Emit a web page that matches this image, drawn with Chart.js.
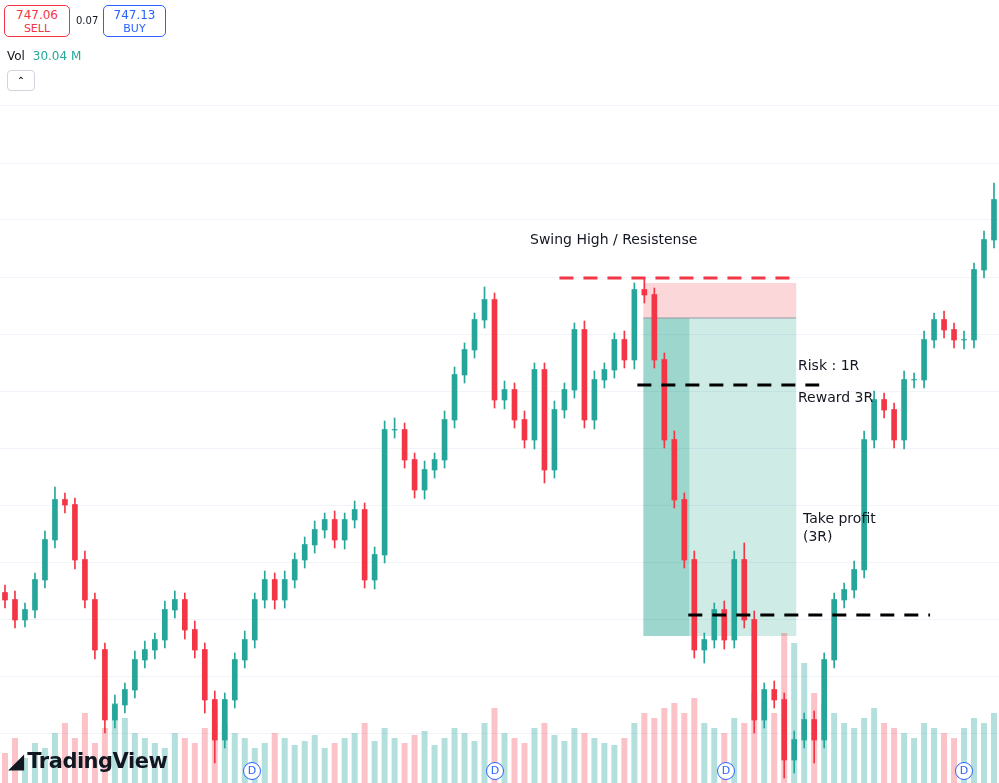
<!DOCTYPE html>
<html>
<head>
<meta charset="utf-8">
<script src="https://cdn.jsdelivr.net/npm/chart.js@4.4.1/dist/chart.umd.min.js"></script>
<style>
  html, body { margin: 0; padding: 0; background: #fff; overflow: hidden; }
  #wrap { position: relative; width: 999px; height: 783px; font-family: "DejaVu Sans", sans-serif; }
  canvas { position: absolute; left: 0; top: 0; }
  .lbl { position: absolute; font-size: 14px; color: #131722; white-space: nowrap; }
  .box { position: absolute; top: 5px; height: 32px; border-radius: 5px; font-size: 11px; text-align: center; line-height: 13px; padding-top: 3px; box-sizing: border-box; background: #fff; }
  .dmark { position: absolute; bottom: 3px; width: 16px; height: 16px; border: 1.5px solid #2962ff; border-radius: 50%; font-size: 11px; color: #2962ff; text-align: center; line-height: 16px; background: #fff; }
</style>
</head>
<body>
<div id="wrap">
  <canvas id="c" width="999" height="783"></canvas>
  <div class="box" style="left:4px;width:66px;border:1px solid #f23645;color:#f23645"><b style="font-size:12px;font-weight:normal">747.06</b><br>SELL</div>
  <div class="lbl" style="left:76px;top:15px;font-size:10px">0.07</div>
  <div class="box" style="left:103px;width:63px;border:1px solid #2962ff;color:#2962ff"><b style="font-size:12px;font-weight:normal">747.13</b><br>BUY</div>
  <div class="lbl" style="left:7px;top:49px;font-size:12px">Vol <span style="color:#26a69a;margin-left:4px">30.04 M</span></div>
  <div style="position:absolute;left:7px;top:70px;width:26px;height:19px;border:1px solid #d1d4dc;border-radius:4px;font-size:10px;text-align:center;line-height:19px;background:#fff">&#8963;</div>
  <div class="lbl" style="left:530px;top:231px">Swing High / Resistense</div>
  <div class="lbl" style="left:798px;top:357px">Risk : 1R</div>
  <div class="lbl" style="left:798px;top:389px">Reward 3R</div>
  <div class="lbl" style="left:803px;top:509px;line-height:18px">Take profit<br>(3R)</div>
  <div class="lbl" style="left:8px;top:749px;font-size:21px;font-weight:bold;letter-spacing:-0.5px">&#9698;&#8201;TradingView</div>
  <div class="dmark" style="left:243px">D</div>
  <div class="dmark" style="left:486px">D</div>
  <div class="dmark" style="left:717px">D</div>
  <div class="dmark" style="left:955px">D</div>
</div>
<script>
// candle data (price units)
const opens  = [190,183,163,173,203,243,283,278,223,183,133,63,78,93,123,133,143,173,183,153,133,83,43,83,123,143,183,203,183,203,223,238,253,263,243,263,273,203,228,353,353,323,293,313,323,363,408,433,463,483,383,393,363,343,413,313,373,393,453,363,403,413,443,423,493,488,423,343,283,223,133,143,173,143,223,163,63,93,83,23,43,63,43,123,183,193,213,343,383,373,343,403,403,443,463,453,443,443,513,543];
const closes = [183,163,173,203,243,283,278,223,183,133,63,78,93,123,133,143,173,183,153,133,83,43,83,123,143,183,203,183,203,223,238,253,263,243,263,273,203,228,353,353,323,293,313,323,363,408,433,463,483,383,393,363,343,413,313,373,393,453,363,403,413,443,423,493,488,423,343,283,223,133,143,173,143,223,163,63,93,83,23,43,63,43,123,183,193,213,343,383,373,343,403,403,443,463,453,443,443,513,543,583];
const highs  = [198,192,180,210,252,296,290,285,232,190,140,88,100,132,142,150,182,192,190,162,140,92,90,130,152,190,212,210,212,230,246,262,270,272,270,282,280,236,362,365,360,330,322,330,372,416,440,470,496,490,402,400,372,420,420,382,400,460,462,412,420,450,452,500,505,495,430,352,290,232,150,180,182,232,240,172,100,102,90,52,70,72,130,190,200,222,352,392,390,380,412,410,452,470,472,460,452,520,552,600];
const lows   = [175,155,156,165,195,235,270,214,175,124,50,55,70,85,115,124,135,165,144,125,70,20,35,75,115,135,175,174,175,195,215,230,245,235,234,255,195,194,220,345,315,285,284,305,315,355,400,425,455,375,374,355,335,334,300,305,365,385,355,354,395,405,415,414,480,415,335,275,215,125,120,135,134,135,155,50,55,75,5,10,35,20,35,115,175,185,205,335,365,335,334,395,395,435,445,435,434,435,505,535];
const volumes = [30,45,25,40,35,50,60,45,70,40,55,80,65,50,45,40,35,50,45,40,55,75,60,50,45,35,40,50,45,38,42,48,35,40,45,50,60,42,55,45,40,48,52,38,45,55,50,42,60,75,50,45,40,55,60,48,42,55,50,45,40,38,45,60,70,65,75,80,70,85,60,55,50,65,60,90,80,70,150,140,120,90,80,70,60,55,65,75,60,55,50,45,60,55,50,45,55,65,60,70];

const labels = closes.map((_, i) => i);
const up = closes.map((c, i) => c >= opens[i]);
const UP = '#26a69a', DN = '#f23645';

// overlay shapes in data units: x = candle index, y = price
const drawOverlays = {
  id: 'overlays',
  beforeDatasetsDraw(chart) {
    const { ctx, scales: { x, y } } = chart;
    const px = i => x.getPixelForValue(0) + i * (x.getPixelForValue(1) - x.getPixelForValue(0));
    const rect = (x0, x1, p0, p1, col) => {
      ctx.fillStyle = col;
      ctx.fillRect(px(x0), y.getPixelForValue(p0), px(x1) - px(x0), y.getPixelForValue(p1) - y.getPixelForValue(p0));
    };
    ctx.save();
    rect(63.9, 79.2, 500, 465, 'rgba(242,54,69,0.2)');
    rect(63.9, 79.2, 465, 147, 'rgba(8,153,129,0.2)');
    rect(63.9, 68.5, 465, 147, 'rgba(8,153,129,0.25)');
    ctx.strokeStyle = '#9598a1'; ctx.lineWidth = 1;
    ctx.beginPath(); ctx.moveTo(px(63.9), y.getPixelForValue(465)); ctx.lineTo(px(79.2), y.getPixelForValue(465)); ctx.stroke();
    ctx.restore();
  },
  afterDatasetsDraw(chart) {
    const { ctx, scales: { x, y } } = chart;
    const px = i => x.getPixelForValue(0) + i * (x.getPixelForValue(1) - x.getPixelForValue(0));
    const dash = (x0, x1, p, col) => {
      ctx.strokeStyle = col; ctx.lineWidth = 3; ctx.setLineDash([14, 10]);
      ctx.beginPath(); ctx.moveTo(px(x0), y.getPixelForValue(p)); ctx.lineTo(px(x1), y.getPixelForValue(p)); ctx.stroke();
    };
    ctx.save();
    dash(55.5, 79.5, 505, '#f23645');
    dash(63.3, 81.5, 398, '#000');
    dash(68.4, 92.6, 168, '#000');
    ctx.restore();
  }
};

new Chart(document.getElementById('c'), {
  type: 'bar',
  data: {
    labels,
    datasets: [
      { label: 'vol', data: volumes, yAxisID: 'yv', grouped: false, barPercentage: 0.6, categoryPercentage: 1,
        backgroundColor: up.map(u => u ? 'rgba(38,166,154,0.35)' : 'rgba(242,54,69,0.3)'), order: 3 },
      { label: 'wick', data: highs.map((h, i) => [lows[i], h]), grouped: false, barThickness: 1,
        backgroundColor: up.map(u => u ? UP : DN), order: 2 },
      { label: 'body', data: opens.map((o, i) => [Math.min(o, closes[i]), Math.max(o, closes[i]) + 0.5]), grouped: false, barThickness: 5,
        backgroundColor: up.map(u => u ? UP : DN), order: 1 }
    ]
  },
  options: {
    animation: false,
    responsive: false,
    layout: { padding: 0 },
    plugins: { legend: { display: false }, tooltip: { enabled: false } },
    scales: {
      x: { display: false, offset: true },
      y: { min: 0, max: 783, position: 'right',
        afterBuildTicks: ax => { ax.ticks = [50,107,164,221,278,335,392,449,506,563,620,677].map(v => ({ value: v })); },
        grid: { color: '#f0f3fa', drawTicks: false }, ticks: { display: false }, border: { display: false } },
      yv: { display: false, min: 0, max: 783 }
    }
  },
  plugins: [drawOverlays]
});
</script>
</body>
</html>
